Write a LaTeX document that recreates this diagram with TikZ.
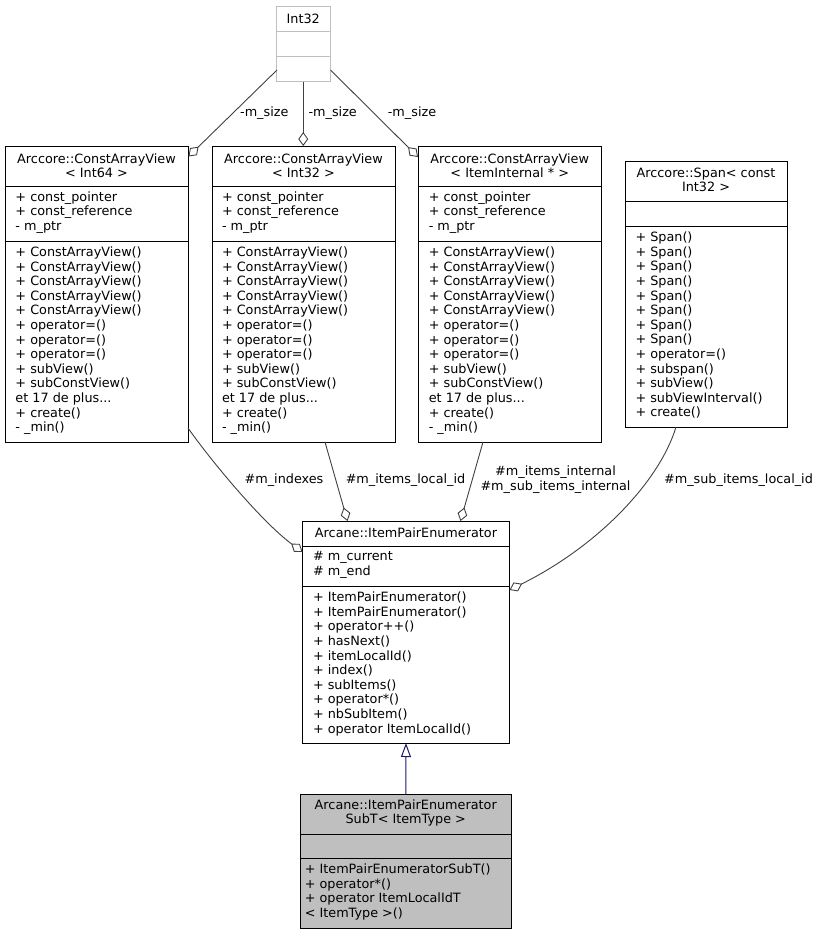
\documentclass[tikz,border=0pt]{standalone}
\usepackage{fontspec}
\setmainfont{DejaVu Sans}
\usetikzlibrary{arrows.meta}
\definecolor{boxgray}{HTML}{BFBFBF}
\definecolor{inhblue}{HTML}{191970}
\definecolor{edgegray}{HTML}{404040}
\newcommand\dgfont{\fontsize{12.8}{14.6}\selectfont}
\begin{document}
\begin{tikzpicture}[x=1pt,y=-1pt,
  cls/.style={draw=black, line width=1pt, fill=white, inner sep=0, outer sep=0},
  sepline/.style={draw=black, line width=1pt},
  txt/.style={inner sep=0, outer sep=0, align=left, anchor=west, font=\dgfont},
  ttl/.style={inner sep=0, outer sep=0, align=center, font=\dgfont},
  lbl/.style={inner sep=0, outer sep=0, align=center, font=\dgfont},
  agg/.style={draw=edgegray, line width=0.9pt, -{Diamond[open, length=14pt, width=10pt, line width=0.9pt]}},
  inh/.style={draw=inhblue, line width=1pt, -{Triangle[open, length=14pt, width=10pt, line width=1pt]}}]
\useasboundingbox (0,0) rectangle (822,935);

% ---------- Int32 ----------
\node[cls, draw=boxgray, minimum width=54.5pt, minimum height=75.5pt] (int32) at (303.25,43.75) {};
\draw[boxgray, line width=1pt] (276,31.5) -- (330.5,31.5) (276,56.5) -- (330.5,56.5);
\node[ttl] (int32t) at (303.25,18.5) {Int32};

% ---------- ConstArrayView<Int64> ----------
\node[cls, minimum width=183pt, minimum height=296pt] (cav64) at (96.5,294) {};
\draw[sepline] (5,186) -- (188,186) (5,241) -- (188,241);
\node[ttl] (cav64t) at (96.5,165.8) {Arccore::ConstArrayView\\< Int64 >};
\node[txt] (cav64a) at (15.5,212.5) {+ const\_pointer\\+ const\_reference\\- m\_ptr};
\node[txt] (cav64m) at (15.5,340.8) {+ ConstArrayView()\\+ ConstArrayView()\\+ ConstArrayView()\\+ ConstArrayView()\\+ ConstArrayView()\\+ operator=()\\+ operator=()\\+ operator=()\\+ subView()\\+ subConstView()\\et 17 de plus...\\+ create()\\- \_min()};

% ---------- ConstArrayView<Int32> ----------
\node[cls, minimum width=183pt, minimum height=296pt] (cav32) at (303.5,294) {};
\draw[sepline] (212,186) -- (395,186) (212,241) -- (395,241);
\node[ttl] (cav32t) at (303.5,165.8) {Arccore::ConstArrayView\\< Int32 >};
\node[txt] (cav32a) at (222,212.5) {+ const\_pointer\\+ const\_reference\\- m\_ptr};
\node[txt] (cav32m) at (222,340.8) {+ ConstArrayView()\\+ ConstArrayView()\\+ ConstArrayView()\\+ ConstArrayView()\\+ ConstArrayView()\\+ operator=()\\+ operator=()\\+ operator=()\\+ subView()\\+ subConstView()\\et 17 de plus...\\+ create()\\- \_min()};

% ---------- ConstArrayView<ItemInternal*> ----------
\node[cls, minimum width=183.5pt, minimum height=296pt] (cavii) at (509.75,294) {};
\draw[sepline] (418,186) -- (601.5,186) (418,241) -- (601.5,241);
\node[ttl] (caviit) at (509.75,165.8) {Arccore::ConstArrayView\\< ItemInternal * >};
\node[txt] (cavila) at (428.8,212.5) {+ const\_pointer\\+ const\_reference\\- m\_ptr};
\node[txt] (caviim) at (428.8,340.8) {+ ConstArrayView()\\+ ConstArrayView()\\+ ConstArrayView()\\+ ConstArrayView()\\+ ConstArrayView()\\+ operator=()\\+ operator=()\\+ operator=()\\+ subView()\\+ subConstView()\\et 17 de plus...\\+ create()\\- \_min()};

% ---------- Span<const Int32> ----------
\node[cls, minimum width=162pt, minimum height=266pt] (span) at (706,294) {};
\draw[sepline] (625,201) -- (787,201) (625,226) -- (787,226);
\node[ttl] (spant) at (706,179.7) {Arccore::Span< const\\Int32 >};
\node[txt] (spanm) at (635.5,325.3) {+ Span()\\+ Span()\\+ Span()\\+ Span()\\+ Span()\\+ Span()\\+ Span()\\+ Span()\\+ operator=()\\+ subspan()\\+ subView()\\+ subViewInterval()\\+ create()};

% ---------- ItemPairEnumerator ----------
\node[cls, minimum width=207pt, minimum height=222pt] (ipe) at (406,632) {};
\draw[sepline] (302.5,546) -- (509.5,546) (302.5,586) -- (509.5,586);
\node[ttl] (ipet) at (406,532.5) {Arcane::ItemPairEnumerator};
\node[txt] (ipea) at (313,564.7) {\# m\_current\\\# m\_end};
\node[txt] (ipem) at (313,663.9) {+ ItemPairEnumerator()\\+ ItemPairEnumerator()\\+ operator++()\\+ hasNext()\\+ itemLocalId()\\+ index()\\+ subItems()\\+ operator*()\\+ nbSubItem()\\+ operator ItemLocalId()};

% ---------- ItemPairEnumeratorSubT ----------
\node[cls, fill=boxgray, minimum width=211.5pt, minimum height=134pt] (subt) at (405.75,861) {};
\draw[sepline] (300,834) -- (511.5,834) (300,858.5) -- (511.5,858.5);
\node[ttl] (subtt) at (405.75,812.8) {Arcane::ItemPairEnumerator\\SubT< ItemType >};
\node[txt] (subtm) at (304.8,892) {+ ItemPairEnumeratorSubT()\\+ operator*()\\+ operator ItemLocalIdT\\< ItemType >()};

% ---------- connector end points ----------
\coordinate (i32l) at (277,70);
\coordinate (i32r) at (330.5,70);
\coordinate (c64tr) at (188.5,156.5);
\coordinate (ciitl) at (418,157);
\coordinate (c64b) at (188,428);
\coordinate (ipel) at (302.5,552);
\coordinate (c32b) at (325,442);
\coordinate (ipet1) at (347.5,521);
\coordinate (ciib) at (483,442);
\coordinate (ipet2) at (460.5,521);
\coordinate (spanb) at (676,427);
\coordinate (iper) at (509.5,590);

% ---------- connectors ----------
\draw[agg] (i32l) -- (c64tr);
\draw[agg] (int32.south) -- (int32.south |- cav32.north);
\draw[agg] (i32r) -- (ciitl);
\draw[agg] (c64b) .. controls (212,462) and (262,522) .. (ipel);
\draw[agg] (c32b) -- (ipet1);
\draw[agg] (ciib) -- (ipet2);
\draw[agg] (spanb) .. controls (660,480) and (600,545) .. (iper);
\draw[inh] (subt.north) -- (ipe.south);

% ---------- labels ----------
\node[lbl] (l1) at (264.3,112.7) {-m\_size};
\node[lbl] (l2) at (332.7,112.7) {-m\_size};
\node[lbl] (l3) at (412,112.7) {-m\_size};
\node[lbl] (l4) at (284,480) {\#m\_indexes};
\node[lbl] (l5) at (405.5,480) {\#m\_items\_local\_id};
\node[lbl] (l6) at (555.5,479.7) {\#m\_items\_internal\\\#m\_sub\_items\_internal};
\node[lbl] (l7) at (738.5,480) {\#m\_sub\_items\_local\_id};
\end{tikzpicture}
\end{document}
